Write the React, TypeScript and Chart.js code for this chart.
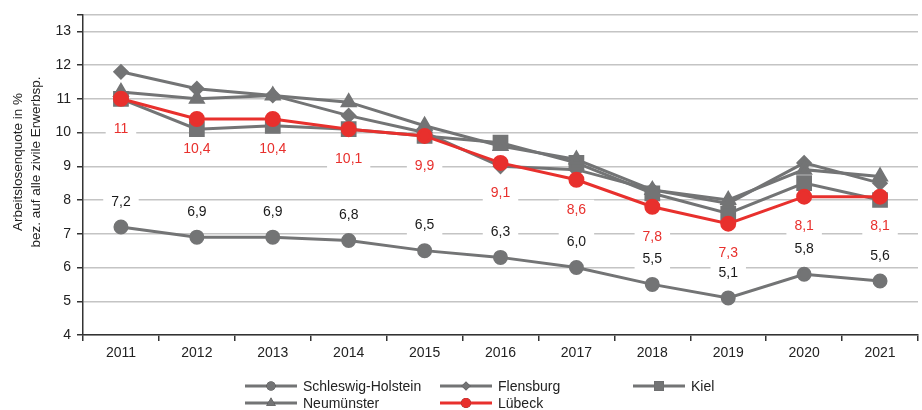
import React, { useEffect, useRef } from 'react';
import { Chart, registerables } from 'chart.js';
import { drawPoint } from 'chart.js/helpers';

Chart.register(...registerables);

const years = ['2011', '2012', '2013', '2014', '2015', '2016', '2017', '2018', '2019', '2020', '2021'];
const schleswigHolstein = [7.2, 6.9, 6.9, 6.8, 6.5, 6.3, 6.0, 5.5, 5.1, 5.8, 5.6];
const flensburg = [11.8, 11.3, 11.1, 10.5, 10.0, 9.0, 8.9, 8.3, 7.9, 9.1, 8.5];
const kiel = [11.0, 10.1, 10.2, 10.1, 9.9, 9.7, 9.1, 8.2, 7.6, 8.5, 8.0];
const neumuenster = [11.2, 11.0, 11.1, 10.9, 10.2, 9.6, 9.2, 8.3, 8.0, 8.9, 8.7];
const luebeck = [11, 10.4, 10.4, 10.1, 9.9, 9.1, 8.6, 7.8, 7.3, 8.1, 8.1];
const yTitle = ['Arbeitslosenquote in %', 'bez. auf alle zivile Erwerbsp.'];

const GRAY = '#737475';
const RED = '#e8302d';
const FONT = '"Liberation Sans", Arial, sans-serif';

export default function App() {
  const ref = useRef<HTMLCanvasElement>(null);
  useEffect(() => {
    const canvas = ref.current!;
    const labelPlugin = {
      id: 'valueLabels',
      beforeDatasetsDraw(chart: any) {
        const ctx = chart.ctx;
        ctx.save();
        ctx.font = `14px ${FONT}`;
        chart.data.datasets.forEach((ds: any, i: number) => {
          if (!ds.valueLabel) return;
          const meta = chart.getDatasetMeta(i);
          meta.data.forEach((pt: any, j: number) => {
            const txt = ds.valueLabel.fmt(ds.data[j]);
            const w = ctx.measureText(txt).width + 16;
            const y = pt.y + ds.valueLabel.dy;
            ctx.fillStyle = '#ffffff';
            ctx.fillRect(pt.x - w / 2, y - 10, w, 20);
          });
        });
        ctx.restore();
      },
      afterDatasetsDraw(chart: any) {
        const ctx = chart.ctx;
        ctx.save();
        ctx.font = `14px ${FONT}`;
        ctx.textAlign = 'center';
        ctx.textBaseline = 'middle';
        chart.data.datasets.forEach((ds: any, i: number) => {
          if (!ds.valueLabel) return;
          const meta = chart.getDatasetMeta(i);
          meta.data.forEach((pt: any, j: number) => {
            const txt = ds.valueLabel.fmt(ds.data[j]);
            ctx.fillStyle = ds.valueLabel.color;
            ctx.fillText(txt, pt.x, pt.y + ds.valueLabel.dy);
          });
        });
        ctx.restore();
      },
      afterDraw(chart: any) {
        const ctx = chart.ctx;
        ctx.save();
        // y axis title
        ctx.font = `13.5px ${FONT}`;
        ctx.fillStyle = '#222';
        ctx.textAlign = 'center';
        ctx.textBaseline = 'middle';
        const xs = [18, 36];
        yTitle.forEach((t, k) => {
          ctx.save();
          ctx.translate(xs[k], 162);
          ctx.rotate(-Math.PI / 2);
          ctx.fillText(t, 0, 0);
          ctx.restore();
        });
        // legend
        const cols = [245, 440, 633];
        const rows = [386, 403];
        const order = [0, 1, 2, 3, 4];
        ctx.font = `14px ${FONT}`;
        ctx.textAlign = 'left';
        order.forEach((di, k) => {
          const ds: any = chart.data.datasets[di];
          const x = cols[k % 3];
          const y = rows[Math.floor(k / 3)];
          ctx.strokeStyle = ds.borderColor;
          ctx.lineWidth = 3;
          ctx.beginPath();
          ctx.moveTo(x, y);
          ctx.lineTo(x + 52, y);
          ctx.stroke();
          drawPoint(ctx, {
            pointStyle: ds.pointStyle,
            radius: ds.legendRadius,
            rotation: 0,
            borderWidth: 0,
          } as any, x + 26, y);
          ctx.fillStyle = ds.borderColor;
          ctx.beginPath();
          drawPoint(ctx, { pointStyle: ds.pointStyle, radius: ds.legendRadius, rotation: 0, borderWidth: 0 } as any, x + 26, y);
          ctx.fillStyle = '#222';
          ctx.fillText(ds.label, x + 58, y + 1);
        });
        ctx.restore();
      },
    };

    const chart = new Chart(canvas, {
      type: 'line',
      data: {
        labels: years,
        datasets: [
          {
            label: 'Schleswig-Holstein', data: schleswigHolstein, borderColor: GRAY, backgroundColor: GRAY,
            pointStyle: 'circle', pointRadius: 6, borderWidth: 3, order: 4, legendRadius: 4.5,
            valueLabel: { dy: -25, color: '#1a1a1a', fmt: (v: number) => v.toFixed(1).replace('.', ',') },
          } as any,
          {
            label: 'Flensburg', data: flensburg, borderColor: GRAY, backgroundColor: GRAY,
            pointStyle: 'rectRot', pointRadius: 6, borderWidth: 3, order: 3, legendRadius: 4.5,
          } as any,
          {
            label: 'Kiel', data: kiel, borderColor: GRAY, backgroundColor: GRAY,
            pointStyle: 'rect', pointRadius: 9, borderWidth: 3, order: 2, legendRadius: 7,
          } as any,
          {
            label: 'Neumünster', data: neumuenster, borderColor: GRAY, backgroundColor: GRAY,
            pointStyle: 'triangle', pointRadius: 7, borderWidth: 3, order: 1, legendRadius: 5.5,
          } as any,
          {
            label: 'Lübeck', data: luebeck, borderColor: RED, backgroundColor: RED,
            pointStyle: 'circle', pointRadius: 6.5, borderWidth: 3, order: 0, legendRadius: 5,
            valueLabel: { dy: 30, color: RED, fmt: (v: number) => String(v).replace('.', ',') },
          } as any,
        ],
      },
      options: {
        responsive: false,
        animation: false,
        layout: { padding: { top: 12, right: 0, bottom: 44, left: 0 } },
        plugins: { legend: { display: false }, tooltip: { enabled: false } },
        elements: { line: { tension: 0 }, point: { borderWidth: 0 } },
        scales: {
          x: {
            offset: true,
            grid: { offset: true, drawOnChartArea: false, tickLength: 6, color: '#333', lineWidth: 1.5 },
            border: { color: '#333', width: 1.5 },
            ticks: { font: { family: FONT, size: 14 }, color: '#222', padding: 4, maxRotation: 0 },
            afterFit: (s: any) => { s.height = 31; },
          },
          y: {
            min: 4, max: 13.5,
            ticks: {
              stepSize: 1, font: { family: FONT, size: 14 }, color: '#222', padding: 6,
              callback: (v: any) => (Number.isInteger(v) ? String(v) : ''),
            },
            grid: { color: '#c4c4c4', lineWidth: 1.5, tickLength: 6, tickColor: '#333' },
            border: { color: '#333', width: 1.5 },
            afterFit: (s: any) => { s.width = 83; },
          },
        },
      },
      plugins: [labelPlugin],
    });
    return () => chart.destroy();
  }, []);
  return (
    <div style={{ position: 'fixed', left: 0, top: 0, width: 922, height: 410, overflow: 'hidden', background: '#fff' }}>
      <canvas ref={ref} width={930} height={410} style={{ display: 'block' }} />
    </div>
  );
}
